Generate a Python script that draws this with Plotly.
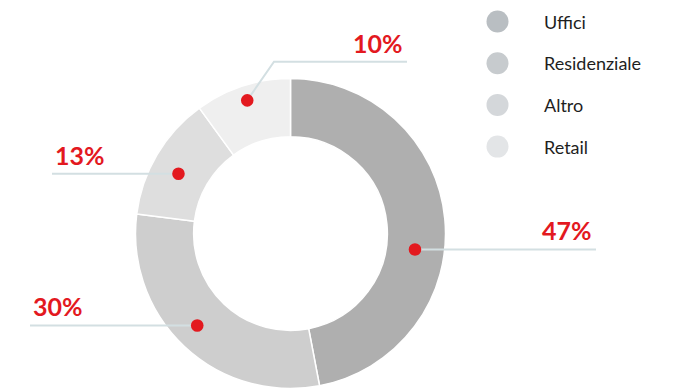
import math
import plotly.graph_objects as go

# ---- data ----
categories = ["Uffici", "Residenziale", "Altro", "Retail"]
shares = [47, 30, 13, 10]
slice_colors = ["#afafaf", "#cecece", "#dedede", "#efefef"]
legend_colors = ["#b9bec2", "#c7cbce", "#d4d7da", "#e3e5e7"]

# ---- layout constants (pixels) ----
W, H = 681, 390
CX, CY = 290.5, 233.5          # donut centre
R_OUT = 155.0
HOLE = 0.625
RED = "#e3191f"
LEAD = "#d3dfe2"

# dot placement on the ring: radius and angular nudge per slice
dot_radius = [125.5, 131.0, 127.0, 140.0]
dot_nudge = [12.7, 2.2, -2.5, 0.0]
# leader ends: (elbow or None, end x, side)
leaders = [
    (None, 596, "right"),
    (None, 30, "left"),
    (None, 52, "left"),
    ((274, 61.7), 407, "right"),
]

fig = go.Figure()

fig.add_trace(go.Pie(
    labels=categories,
    values=shares,
    sort=False,
    direction="clockwise",
    rotation=0,
    hole=HOLE,
    textinfo="none",
    hoverinfo="label+percent",
    showlegend=False,
    marker=dict(colors=slice_colors, line=dict(color="white", width=1.5)),
    domain=dict(
        x=[(CX - R_OUT) / W, (CX + R_OUT) / W],
        y=[(H - (CY + R_OUT)) / H, (H - (CY - R_OUT)) / H],
    ),
))

shapes = []
total = sum(shares)
start = 0.0
for i, v in enumerate(shares):
    span = 360.0 * v / total
    mid = start + span / 2 + dot_nudge[i]
    start += span
    a = math.radians(mid)
    dx = CX + dot_radius[i] * math.sin(a)
    dy = CY - dot_radius[i] * math.cos(a)

    elbow, end_x, side = leaders[i]
    if elbow is None:
        path = f"M{dx},{dy} L{end_x},{dy}"
        line_y = dy
    else:
        path = f"M{dx},{dy} L{elbow[0]},{elbow[1]} L{end_x},{elbow[1]}"
        line_y = elbow[1]

    # leader line and marker dot sit above the donut
    shapes.append(dict(type="path", path=path, xref="x", yref="y",
                       line=dict(color=LEAD, width=2), layer="above"))
    shapes.append(dict(type="circle", xref="x", yref="y",
                       xsizemode="pixel", ysizemode="pixel",
                       xanchor=dx, yanchor=dy, x0=-6.3, x1=6.3, y0=-6.3, y1=6.3,
                       fillcolor=RED, line=dict(width=0), layer="above"))
    fig.add_annotation(
        x=end_x + (-2 if side == "right" else 1),
        y=line_y - 19,
        xref="x", yref="y",
        text=f"<b>{v}%</b>",
        showarrow=False,
        xanchor="right" if side == "right" else "left",
        yanchor="middle",
        font=dict(family="Lato", size=25, color=RED),
    )

# legend drawn as markers + labels
LEG_X, LEG_Y0, LEG_DY = 497.5, 21.5, 41.7
for i, name in enumerate(categories):
    ly = LEG_Y0 + i * LEG_DY
    fig.add_trace(go.Scatter(
        x=[LEG_X], y=[ly], mode="markers",
        marker=dict(color=legend_colors[i], size=22, line=dict(width=0)),
        hoverinfo="skip", showlegend=False,
    ))
    fig.add_annotation(
        x=542, y=ly, xref="x", yref="y", text=name, showarrow=False,
        xanchor="left", yanchor="middle",
        font=dict(family="Lato", size=18, color="#1e1e1e"),
    )

fig.update_layout(
    width=W, height=H,
    margin=dict(l=0, r=0, t=0, b=0),
    paper_bgcolor="white", plot_bgcolor="rgba(0,0,0,0)",
    xaxis=dict(range=[0, W], visible=False, fixedrange=True),
    yaxis=dict(range=[H, 0], visible=False, fixedrange=True),
    showlegend=False,
    shapes=shapes,
)

fig.write_html("out.html")
